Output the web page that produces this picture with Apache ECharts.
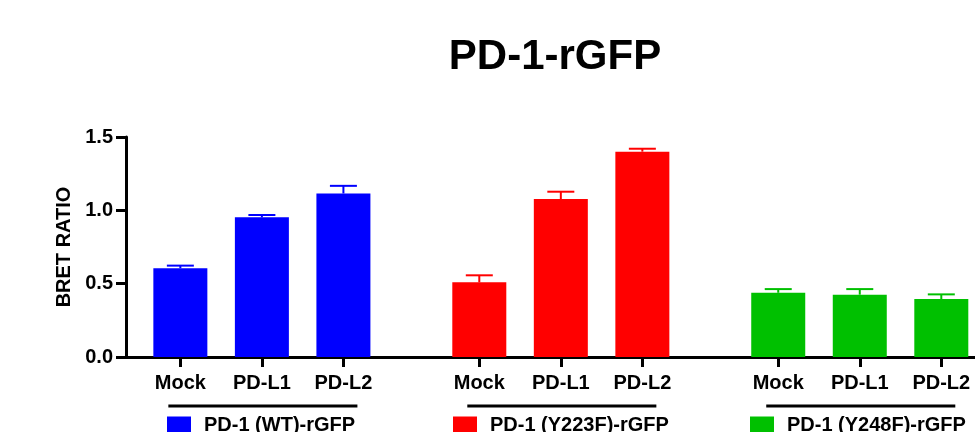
<!DOCTYPE html>
<html>
<head>
<meta charset="utf-8">
<script src="https://cdn.jsdelivr.net/npm/echarts@6/dist/echarts.min.js"></script>
<style>
html,body{margin:0;padding:0;background:#fff;}
#chart{width:975px;height:432px;}
</style>
</head>
<body>
<div id="chart"></div>
<script>
const titleText = 'PD-1-rGFP';
const yAxisName = 'BRET RATIO';
const conditions = ['Mock', 'PD-L1', 'PD-L2'];
const groupNames = ['PD-1 (WT)-rGFP', 'PD-1 (Y223F)-rGFP', 'PD-1 (Y248F)-rGFP'];
const groupColors = ['#0000FF', '#FF0000', '#00C000'];
const wtMean = [0.605, 0.952, 1.115];
const wtErr = [0.018, 0.016, 0.052];
const y223fMean = [0.509, 1.077, 1.400];
const y223fErr = [0.048, 0.050, 0.020];
const y248fMean = [0.438, 0.425, 0.395];
const y248fErr = [0.025, 0.038, 0.032];
const yTicks = [0, 0.5, 1.0, 1.5];

const means = [wtMean, y223fMean, y248fMean];
const errs = [wtErr, y223fErr, y248fErr];

// slot layout on a numeric x axis
const firstSlot = 2, condStep = 3, groupStep = 11, xMax = 31.24;
const slotOf = (g, c) => firstSlot + g * groupStep + c * condStep;
const slotLabel = {};
const slotList = [];
groupNames.forEach((g, gi) => conditions.forEach((c, ci) => {
  slotLabel[slotOf(gi, ci)] = c; slotList.push(slotOf(gi, ci));
}));

const font = "'Liberation Sans', Arial, sans-serif";
const series = [];
groupNames.forEach((name, gi) => {
  series.push({
    name: name, type: 'bar', barWidth: 54, barGap: '-100%',
    data: conditions.map((c, ci) => [slotOf(gi, ci), means[gi][ci]]),
    itemStyle: { color: groupColors[gi] }, z: 2
  });
  series.push({
    type: 'custom', clip: false, z: 3,
    data: conditions.map((c, ci) => [slotOf(gi, ci), means[gi][ci], errs[gi][ci]]),
    renderItem: function (params, api) {
      const x = api.value(0), y = api.value(1), e = api.value(2);
      const p0 = api.coord([x, y]);
      const p1 = api.coord([x, y + e]);
      const st = { stroke: groupColors[gi], lineWidth: 2 };
      return { type: 'group', children: [
        { type: 'line', shape: { x1: p0[0], y1: p0[1], x2: p1[0], y2: p1[1] }, style: st },
        { type: 'line', shape: { x1: p1[0] - 13.5, y1: p1[1], x2: p1[0] + 13.5, y2: p1[1] }, style: st }
      ]};
    }
  });
});
// group underline bars
series.push({
  type: 'custom', clip: false, z: 3,
  data: groupNames.map((g, gi) => [slotOf(gi, 0), slotOf(gi, conditions.length - 1)]),
  renderItem: function (params, api) {
    const a = api.coord([api.value(0), 0]);
    const b = api.coord([api.value(1), 0]);
    return { type: 'line', shape: { x1: a[0] - 12, y1: a[1] + 49, x2: b[0] + 14, y2: a[1] + 49 },
      style: { stroke: '#000', lineWidth: 3 } };
  }
});

const legendLefts = [167, 453, 750];
const legends = groupNames.map((n, gi) => ({
  data: [n], left: legendLefts[gi], top: 415, padding: 0,
  itemWidth: 24, itemHeight: 17, icon: 'rect', selectedMode: false,
  textStyle: { fontFamily: font, fontWeight: 'bold', fontSize: 20, color: '#000', padding: [0, 0, 0, 8] }
}));

const chart = echarts.init(document.getElementById('chart'));
chart.setOption({
  animation: false,
  backgroundColor: '#fff',
  title: {
    text: titleText, left: 550, top: 31, textAlign: 'center',
    textStyle: { fontFamily: font, fontWeight: 'bold', fontSize: 42, color: '#000' }
  },
  legend: legends,
  grid: { left: 126, top: 137, height: 220, right: 0, containLabel: false },
  xAxis: {
    type: 'value', min: 0, max: xMax,
    axisLine: { onZero: false, lineStyle: { color: '#000', width: 3 } },
    axisTick: { show: true, length: 10, customValues: slotList, lineStyle: { color: '#000', width: 3 } },
    axisLabel: { customValues: slotList, margin: 16, color: '#000',
      fontFamily: font, fontWeight: 'bold', fontSize: 20,
      formatter: (v) => slotLabel[Math.round(v)] || '' },
    splitLine: { show: false }
  },
  yAxis: {
    type: 'value', min: 0, max: 1.5, interval: 0.5,
    name: yAxisName, nameLocation: 'middle', nameGap: 52, nameRotate: 90,
    nameTextStyle: { fontFamily: font, fontWeight: 'bold', fontSize: 20, color: '#000' },
    axisLine: { show: true, lineStyle: { color: '#000', width: 3 } },
    axisTick: { show: true, length: 10, lineStyle: { color: '#000', width: 3 } },
    axisLabel: { margin: 13, color: '#000', fontFamily: font, fontWeight: 'bold', fontSize: 20,
      formatter: (v) => v.toFixed(1) },
    splitLine: { show: false }
  },
  series: series
});
</script>
</body>
</html>
